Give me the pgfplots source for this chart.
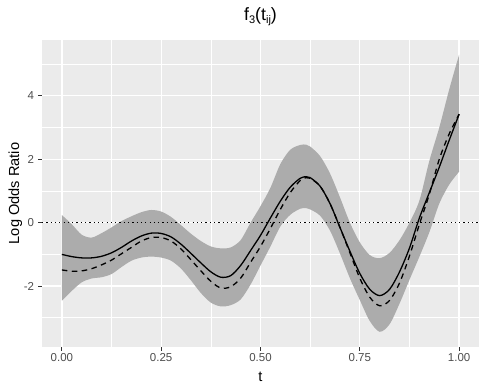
\documentclass[border=0pt]{standalone}
\usepackage{fontspec}
\setmainfont{Liberation Sans}
\usepackage{pgfplots}
\pgfplotsset{compat=1.18}
\usepackage{pgfplotstable}
\usepgfplotslibrary{fillbetween}
\definecolor{panelbg}{RGB}{235,235,235}
\definecolor{rib}{RGB}{172,172,172}
\definecolor{ticklab}{RGB}{77,77,77}
\definecolor{tickcol}{RGB}{51,51,51}

\pgfplotstableread{
t s d u l
0.000 -1.00 -1.49 0.24 -2.46
0.025 -1.07 -1.53 -0.05 -2.15
0.050 -1.11 -1.52 -0.38 -1.88
0.075 -1.11 -1.45 -0.47 -1.76
0.100 -1.06 -1.33 -0.33 -1.72
0.125 -0.95 -1.18 -0.15 -1.62
0.150 -0.78 -0.98 0.05 -1.40
0.175 -0.58 -0.78 0.20 -1.20
0.200 -0.42 -0.58 0.33 -1.10
0.225 -0.33 -0.47 0.40 -1.07
0.250 -0.34 -0.47 0.35 -1.10
0.275 -0.45 -0.58 0.18 -1.20
0.300 -0.68 -0.83 -0.08 -1.45
0.325 -0.97 -1.17 -0.35 -1.82
0.350 -1.27 -1.52 -0.58 -2.22
0.375 -1.55 -1.85 -0.75 -2.52
0.400 -1.72 -2.06 -0.81 -2.64
0.425 -1.67 -2.02 -0.78 -2.60
0.450 -1.35 -1.75 -0.55 -2.42
0.475 -0.88 -1.25 0.00 -1.95
0.500 -0.40 -0.75 0.52 -1.35
0.525 0.15 -0.18 1.10 -0.75
0.550 0.68 0.42 1.85 -0.12
0.575 1.12 0.95 2.30 0.25
0.600 1.40 1.33 2.45 0.44
0.615 1.45 1.42 2.46 0.46
0.625 1.42 1.40 2.40 0.42
0.650 1.15 1.15 2.10 0.22
0.675 0.60 0.60 1.55 -0.25
0.700 -0.15 -0.15 0.80 -0.97
0.725 -0.90 -0.95 0.00 -1.75
0.750 -1.60 -1.75 -0.62 -2.44
0.775 -2.10 -2.35 -1.02 -3.10
0.800 -2.30 -2.62 -1.12 -3.44
0.825 -2.10 -2.45 -0.95 -3.20
0.850 -1.55 -1.90 -0.55 -2.55
0.875 -0.80 -1.05 0.00 -1.80
0.900 0.15 -0.05 0.70 -1.07
0.925 0.95 0.90 1.95 -0.30
0.950 1.75 2.00 3.00 0.60
0.975 2.60 2.80 4.20 1.20
1.000 3.42 3.42 5.30 1.61
}\datatab

\begin{document}
\begin{tikzpicture}
\begin{axis}[
  scale only axis, width=437pt, height=307pt,
  xmin=-0.05, xmax=1.05, ymin=-3.92, ymax=5.76,
  axis background/.style={fill=panelbg},
  axis line style={draw=none},
  xtick={0,0.25,0.5,0.75,1}, xticklabels={0.00,0.25,0.50,0.75,1.00},
  ytick={-2,0,2,4}, yticklabels={-2,0,2,4},
  minor xtick={0.125,0.375,0.625,0.875},
  minor ytick={-3,-1,1,3,5},
  grid=both,
  major grid style={white, line width=1.3pt},
  minor grid style={white, line width=0.65pt},
  tick align=outside, major tick length=3.7pt, minor tick length=0pt,
  xtick pos=left, ytick pos=left,
  tick style={tickcol, line width=1.1pt},
  /pgf/number format/assume math mode=true,
  ticklabel style={font=\fontsize{11.5}{12}\selectfont, text=ticklab},
  xticklabel style={anchor=north, inner sep=0pt, yshift=-3pt},
  yticklabel style={anchor=east, inner sep=0pt, xshift=-4pt},
  title={f\raisebox{-2.7pt}{\fontsize{11}{11}\selectfont 3}(t\raisebox{-2.7pt}{\fontsize{11}{11}\selectfont ij})},
  title style={at={([yshift=13.3pt]axis description cs:0.5,1)}, anchor=base, font=\fontsize{17.8}{20}\selectfont, inner sep=0pt},
  xlabel={t},
  xlabel style={at={([yshift=-34.7pt]axis description cs:0.5,0)}, anchor=base, font=\fontsize{14.6}{16}\selectfont, inner sep=0pt},
  ylabel={Log Odds Ratio},
  ylabel style={at={([xshift=-23pt]axis description cs:0,0.5)}, anchor=base, font=\fontsize{14.6}{16}\selectfont, inner sep=0pt},
]
\addplot[name path=U, draw=none, smooth] table[x=t,y=u]{\datatab};
\addplot[name path=L, draw=none, smooth] table[x=t,y=l]{\datatab};
\addplot[fill=rib, draw=none] fill between[of=U and L];
\addplot[black, line width=1.2pt, dash pattern=on 1.2pt off 3.1pt] coordinates {(-0.05,0) (1.05,0)};
\addplot[black, line width=1.3pt, smooth] table[x=t,y=s]{\datatab};
\addplot[black, line width=1.3pt, smooth, dash pattern=on 5.5pt off 4.5pt] table[x=t,y=d]{\datatab};
\end{axis}
\pgfresetboundingbox
\path[use as bounding box] (-42pt,-43pt) rectangle (444pt,347pt);
\end{tikzpicture}
\end{document}
